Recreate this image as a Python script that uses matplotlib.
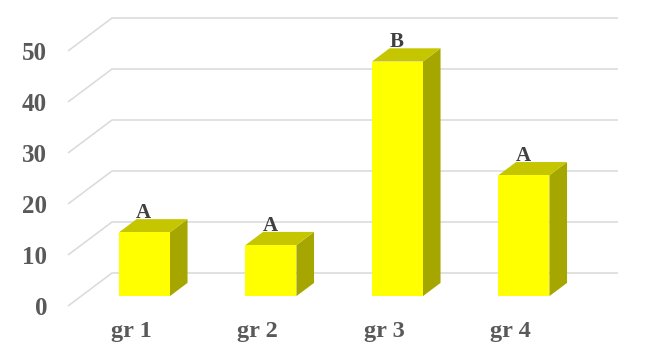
import matplotlib
matplotlib.use("Agg")
import matplotlib.pyplot as plt
from matplotlib.patches import Polygon

categories = ["gr 1", "gr 2", "gr 3", "gr 4"]
values = [12.5, 10.0, 46.0, 23.7]
letters = ["A", "A", "B", "A"]
yticks = [0, 10, 20, 30, 40, 50]

# style / layout
FRONT = "#FFFF00"
TOP = "#C6C600"
SIDE = "#A6A600"
GRID = "#D9D9D9"
TXT = "#595959"
LBL = "#404040"
FONT = "Liberation Serif"

W, H = 645, 355
fig = plt.figure(figsize=(W / 100, H / 100), dpi=100)
ax = fig.add_axes([0, 0, 1, 1])
px_per_cat = 126.5
px_per_unit = 5.1
x0_px = 131.25
y0_px = 49.0
ax.set_xlim(-x0_px / px_per_cat, (W - x0_px) / px_per_cat)
ax.set_ylim(-y0_px / px_per_unit, (H - y0_px) / px_per_unit)

# oblique depth offset (full depth of the box)
DX = 44 / px_per_cat
DY = 33 / px_per_unit
bw = 0.403
d_front, d_back = 0.3, 0.7

n = len(categories)
left = -0.5
right = n - 0.5

# gridlines: floor diagonal + back wall
for v in yticks:
    ax.plot([left, left + DX, right + DX], [v, v + DY, v + DY],
            color=GRID, lw=1.1, zorder=1, solid_capstyle="butt")

for i, v in enumerate(values):
    fx = i + d_front * DX
    fy = d_front * DY
    bx = i + d_back * DX
    by = d_back * DY
    xl, xr = fx - bw / 2, fx + bw / 2
    bxl, bxr = bx - bw / 2, bx + bw / 2
    # side
    ax.add_patch(Polygon([(xr, fy), (bxr, by), (bxr, by + v), (xr, fy + v)],
                         closed=True, fc=SIDE, ec="none", zorder=3))
    # top
    ax.add_patch(Polygon([(xl, fy + v), (xr, fy + v), (bxr, by + v), (bxl, by + v)],
                         closed=True, fc=TOP, ec="none", zorder=3))
    # front
    ax.add_patch(Polygon([(xl, fy), (xr, fy), (xr, fy + v), (xl, fy + v)],
                         closed=True, fc=FRONT, ec="none", zorder=4))
    ax.text(fx - 0.008, by + v + 0.25, letters[i], ha="center", va="baseline",
            fontsize=15, fontweight="bold", family=FONT, color=LBL, zorder=5)

# axes ticks / labels
for s in ax.spines.values():
    s.set_visible(False)
ax.spines["left"].set_position(("data", left))
ax.spines["bottom"].set_position(("data", 0))
ax.set_yticks(yticks)
ax.set_yticklabels([str(t) for t in yticks])
ax.set_xticks(range(n))
ax.set_xticklabels(categories)
ax.tick_params(axis="y", length=0, pad=15.0, labelsize=18, labelcolor=TXT)
ax.tick_params(axis="x", length=0, pad=11.0, labelsize=17.5, labelcolor=TXT)
for lab in ax.get_xticklabels() + ax.get_yticklabels():
    lab.set_fontfamily(FONT)
    lab.set_fontweight("bold")
ax.set_facecolor("white")
ax.patch.set_visible(False)

fig.savefig("out.png", dpi=100, facecolor="white")
